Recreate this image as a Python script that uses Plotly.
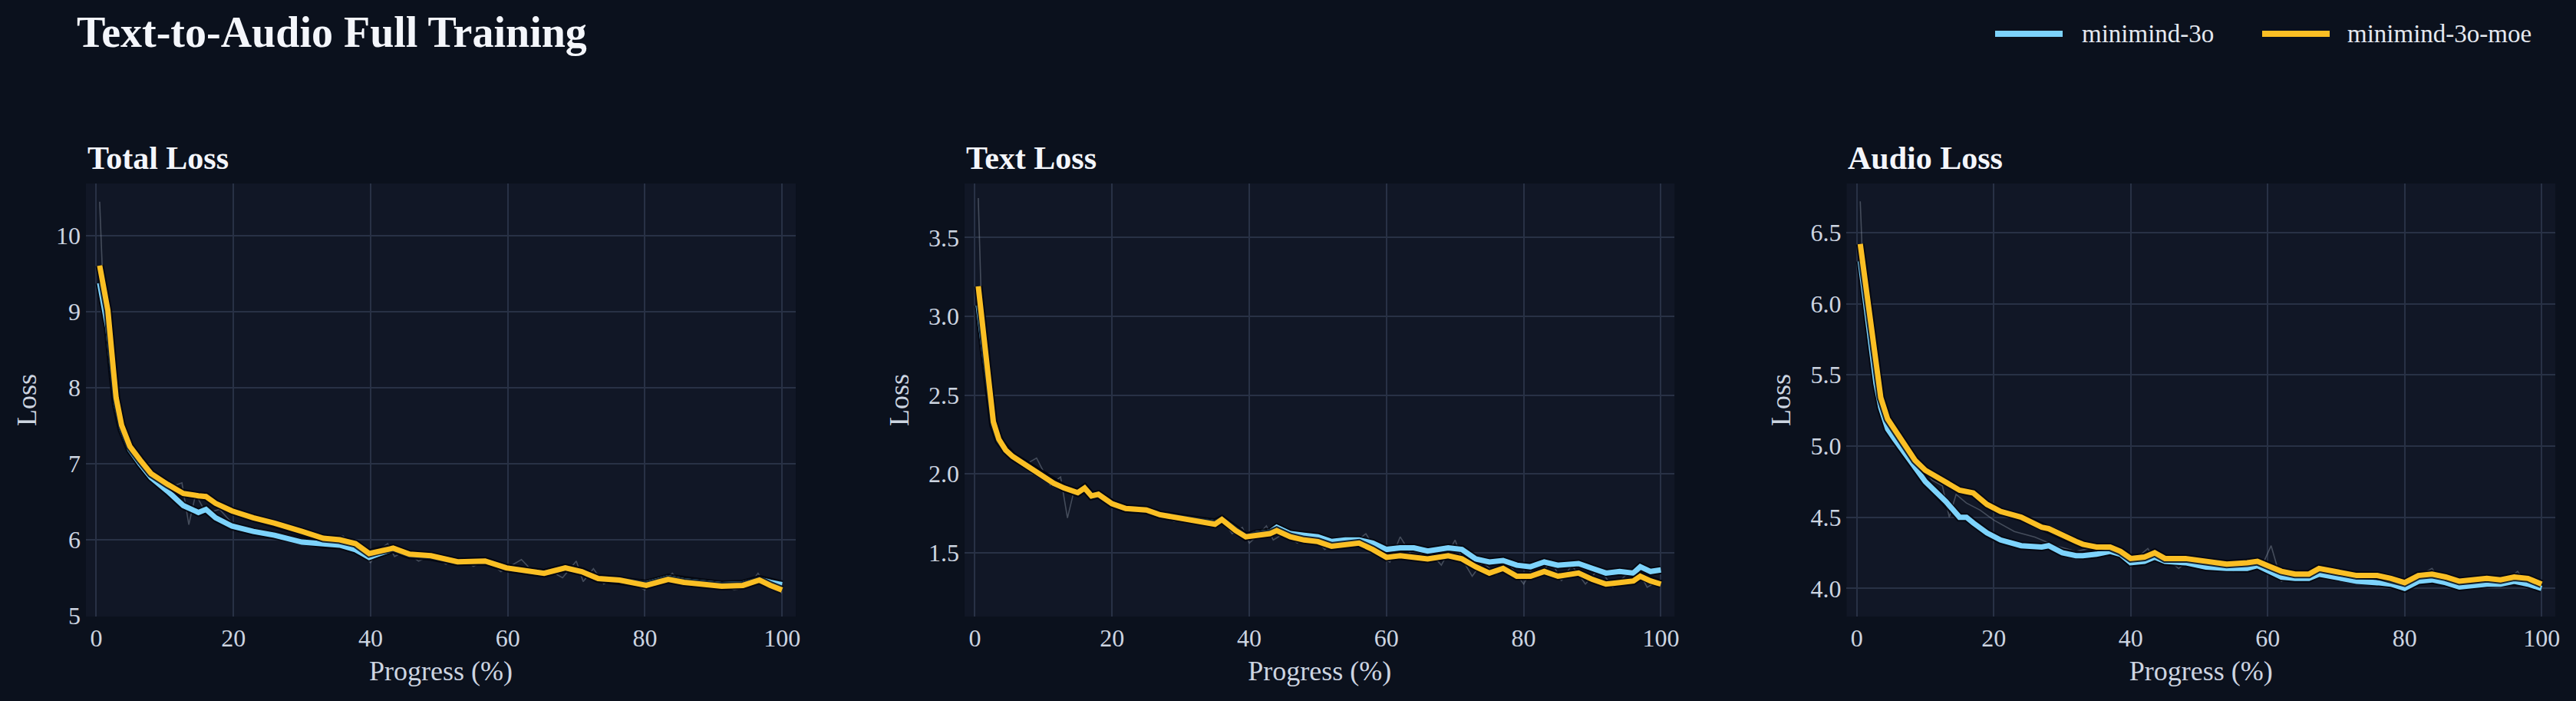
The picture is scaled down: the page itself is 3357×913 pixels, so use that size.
import plotly.graph_objects as go

# ---------------- data ----------------
SERIES_NAMES = ["minimind-3o", "minimind-3o-moe"]
PANEL_TITLES = ["Total Loss", "Text Loss", "Audio Loss"]
X_TICKS = [0, 20, 40, 60, 80, 100]

PROGRESS_TOTAL = [0.5, 1.7, 2.5, 2.9, 3.7, 4.9, 6.4, 8, 10.4, 12.7, 14.9, 16, 17.4, 19.8, 22.9, 26, 30,
                  33.1, 35.5, 37.8, 39.8, 41, 43.3, 45.7, 48.8, 52.7, 56.7, 59.8, 62.9, 65.3, 68.4, 70.8,
                  73.2, 76.3, 80.2, 83.4, 85.7, 88.1, 91.2, 94.3, 96.7, 98.3, 100]
TOTAL_3O = [9.38, 8.79, 8.10, 7.78, 7.46, 7.19, 7.00, 6.82, 6.64, 6.45, 6.36, 6.40, 6.29, 6.18, 6.11, 6.06,
            5.97, 5.94, 5.93, 5.87, 5.77, 5.81, 5.88, 5.80, 5.78, 5.71, 5.72, 5.63, 5.60, 5.56, 5.63, 5.58,
            5.49, 5.47, 5.42, 5.50, 5.46, 5.44, 5.41, 5.42, 5.48, 5.44, 5.41]
TOTAL_MOE = [9.61, 9.02, 8.24, 7.87, 7.51, 7.23, 7.05, 6.87, 6.73, 6.61, 6.58, 6.57, 6.48, 6.38, 6.29, 6.22,
             6.11, 6.02, 6.00, 5.95, 5.82, 5.85, 5.89, 5.81, 5.79, 5.71, 5.72, 5.63, 5.60, 5.56, 5.63, 5.58,
             5.49, 5.47, 5.40, 5.48, 5.44, 5.42, 5.39, 5.40, 5.47, 5.40, 5.34]

PROGRESS_TEXT = [0.5, 1.3, 2, 2.7, 3.5, 4.5, 5.5, 7, 8.5, 10, 11.5, 13, 15, 16, 17, 18, 20, 22, 25, 27, 30, 33,
                 35, 36, 38, 39.5, 41, 43, 44, 46, 48, 50, 52, 54, 56, 58, 60, 62, 64, 66, 69, 71, 73, 75, 77,
                 79, 81, 83, 85, 88, 90, 92, 94, 96, 97, 98.5, 100]
TEXT_3O = [3.07, 2.80, 2.56, 2.31, 2.21, 2.15, 2.11, 2.07, 2.03, 1.98, 1.94, 1.91, 1.88, 1.91, 1.86, 1.87, 1.81,
           1.78, 1.77, 1.74, 1.72, 1.70, 1.69, 1.71, 1.65, 1.60, 1.62, 1.63, 1.66, 1.62, 1.61, 1.60, 1.57, 1.58,
           1.58, 1.56, 1.52, 1.53, 1.53, 1.51, 1.53, 1.52, 1.46, 1.44, 1.45, 1.42, 1.41, 1.44, 1.42, 1.43, 1.40,
           1.37, 1.38, 1.37, 1.41, 1.38, 1.39]
TEXT_MOE = [3.19, 2.88, 2.62, 2.33, 2.22, 2.15, 2.11, 2.07, 2.03, 1.98, 1.94, 1.91, 1.88, 1.91, 1.86, 1.87, 1.81,
            1.78, 1.77, 1.74, 1.72, 1.70, 1.68, 1.71, 1.64, 1.60, 1.61, 1.62, 1.64, 1.60, 1.58, 1.57, 1.54, 1.55,
            1.56, 1.52, 1.47, 1.48, 1.47, 1.46, 1.48, 1.46, 1.41, 1.37, 1.40, 1.35, 1.35, 1.38, 1.35, 1.37, 1.33,
            1.30, 1.31, 1.32, 1.35, 1.32, 1.30]

PROGRESS_AUDIO = [0.5, 1.3, 2, 2.8, 3.5, 4.5, 5.5, 7, 8.5, 10, 11.5, 13, 15, 16, 17, 19, 21, 24, 27, 28, 30, 32,
                  33, 35, 37, 38.5, 40, 42, 43.5, 45, 48, 51, 54, 57, 58.5, 60, 62, 64, 66, 67.5, 70, 73, 76, 78,
                  80, 82, 84, 86, 88, 90, 92, 94, 96, 98, 100]
AUDIO_3O = [6.30, 5.98, 5.69, 5.44, 5.27, 5.12, 5.05, 4.95, 4.84, 4.75, 4.68, 4.61, 4.50, 4.50, 4.46, 4.39, 4.34,
            4.30, 4.29, 4.30, 4.25, 4.23, 4.23, 4.24, 4.26, 4.24, 4.18, 4.19, 4.22, 4.19, 4.18, 4.15, 4.14, 4.14,
            4.16, 4.13, 4.08, 4.07, 4.07, 4.10, 4.08, 4.05, 4.04, 4.03, 4.00, 4.05, 4.06, 4.04, 4.01, 4.02, 4.03,
            4.03, 4.05, 4.03, 4.00]
AUDIO_MOE = [6.42, 6.13, 5.83, 5.54, 5.34, 5.19, 5.12, 5.00, 4.90, 4.83, 4.79, 4.74, 4.69, 4.68, 4.67, 4.59, 4.54,
             4.50, 4.43, 4.42, 4.37, 4.33, 4.31, 4.29, 4.29, 4.26, 4.21, 4.22, 4.25, 4.21, 4.21, 4.19, 4.17, 4.18,
             4.19, 4.16, 4.12, 4.10, 4.10, 4.14, 4.12, 4.09, 4.09, 4.07, 4.04, 4.09, 4.10, 4.08, 4.05, 4.06, 4.07,
             4.06, 4.08, 4.07, 4.03]

# faint raw (unsmoothed) loss traces behind the smoothed curves
RAW_PROGRESS = [0.5, 1, 1.5, 2.5, 3.5, 5, 7, 9, 11, 12.5, 13.5, 14.5, 16, 18, 20, 23, 26, 29, 32, 34, 36, 37.5,
                39, 40, 41, 42.5, 43.5, 45, 47, 49, 51, 53, 55, 57, 59, 60.5, 62, 64, 66, 68, 70, 71, 72.5, 74,
                76, 78, 80, 81, 82.5, 84, 85.5, 87, 89, 91, 93, 95, 96.5, 98, 100]
TOTAL_RAW = [10.45, 9.3, 8.9, 8.1, 7.5, 7.2, 7.0, 6.85, 6.7, 6.75, 6.2, 6.6, 6.35, 6.4, 6.2, 6.15, 6.1, 6.05,
             5.95, 6.0, 6.05, 5.92, 5.78, 5.7, 5.85, 5.95, 5.78, 5.85, 5.72, 5.8, 5.68, 5.76, 5.65, 5.74, 5.58,
             5.66, 5.74, 5.55, 5.6, 5.5, 5.72, 5.45, 5.62, 5.42, 5.5, 5.44, 5.34, 5.46, 5.44, 5.56, 5.4, 5.48,
             5.38, 5.44, 5.34, 5.38, 5.56, 5.36, 5.3]
TEXT_RAW = [3.75, 3.0, 2.75, 2.35, 2.2, 2.12, 2.05, 2.1, 1.93, 1.98, 1.72, 1.9, 1.88, 1.85, 1.82, 1.76, 1.78,
            1.7, 1.72, 1.69, 1.72, 1.62, 1.66, 1.56, 1.6, 1.67, 1.58, 1.62, 1.56, 1.62, 1.52, 1.58, 1.55, 1.62,
            1.48, 1.44, 1.6, 1.46, 1.52, 1.42, 1.58, 1.46, 1.35, 1.44, 1.36, 1.42, 1.3, 1.38, 1.36, 1.45, 1.32,
            1.42, 1.3, 1.4, 1.28, 1.36, 1.4, 1.28, 1.33]
AUDIO_RAW = [6.72, 6.1, 5.85, 5.5, 5.3, 5.1, 4.98, 4.88, 4.76, 4.72, 4.5, 4.66, 4.6, 4.55, 4.48, 4.4, 4.36, 4.3,
             4.26, 4.28, 4.3, 4.24, 4.22, 4.15, 4.22, 4.28, 4.2, 4.22, 4.14, 4.22, 4.14, 4.2, 4.12, 4.18, 4.14,
             4.3, 4.05, 4.1, 4.07, 4.14, 4.08, 4.12, 4.04, 4.1, 4.02, 4.08, 3.98, 4.06, 4.1, 4.14, 4.04, 4.08,
             4.0, 4.08, 4.02, 4.06, 4.12, 4.02, 4.0]

# ---------------- styling ----------------
FONT = "Liberation Serif, Times New Roman, serif"
PAPER_BG = "#0b111d"
PLOT_BG = "#111726"
GRID = "#283145"
TICK_COL = "#cdd5e1"
TITLE_COL = "#f4f6fb"
COLORS = ["#7dd3fc", "#fbbf24"]
SHADOW = "rgba(3,6,14,0.85)"

panels = [
    (PROGRESS_TOTAL, [TOTAL_3O, TOTAL_MOE], TOTAL_RAW, [4.99, 10.69], 1, None),
    (PROGRESS_TEXT, [TEXT_3O, TEXT_MOE], TEXT_RAW, [1.094, 3.843], 0.5, ".1f"),
    (PROGRESS_AUDIO, [AUDIO_3O, AUDIO_MOE], AUDIO_RAW, [3.802, 6.845], 0.5, ".1f"),
]
DOMAINS = [[0.0, 0.28745], [0.35581, 0.64335], [0.71299, 1.0]]

fig = go.Figure()
for i, (xs, ys, raw, yr, dt, fmt) in enumerate(panels):
    xa = "x" if i == 0 else f"x{i+1}"
    ya = "y" if i == 0 else f"y{i+1}"
    fig.add_trace(go.Scatter(x=RAW_PROGRESS, y=raw, mode="lines", xaxis=xa, yaxis=ya,
                             line=dict(color="rgba(140,150,165,0.42)", width=1.6),
                             showlegend=False, hoverinfo="skip"))
    for k in range(2):
        fig.add_trace(go.Scatter(x=xs, y=ys[k], mode="lines", xaxis=xa, yaxis=ya,
                                 line=dict(color=SHADOW, width=11), showlegend=False, hoverinfo="skip"))
        fig.add_trace(go.Scatter(x=xs, y=ys[k], mode="lines", xaxis=xa, yaxis=ya, name=SERIES_NAMES[k],
                                 line=dict(color=COLORS[k], width=7), showlegend=False))
    axsuffix = "" if i == 0 else str(i + 1)
    fig.update_layout(**{
        f"xaxis{axsuffix}": dict(domain=DOMAINS[i], anchor=ya, range=[-1.5, 102], tickvals=X_TICKS,
                                 showgrid=True, gridcolor=GRID, gridwidth=2, zeroline=False, showline=False,
                                 ticks="", ticklabelstandoff=6,
                                 tickfont=dict(family=FONT, size=32, color=TICK_COL),
                                 title=dict(text="Progress (%)", standoff=12,
                                            font=dict(family=FONT, size=36, color=TICK_COL))),
        f"yaxis{axsuffix}": dict(domain=[0, 1], anchor=xa, range=yr, dtick=dt, tickformat=fmt,
                                 showgrid=True, gridcolor=GRID, gridwidth=2, zeroline=False, showline=False,
                                 ticks="", ticklabelstandoff=6,
                                 tickfont=dict(family=FONT, size=32, color=TICK_COL),
                                 title=dict(text="Loss", standoff=14,
                                            font=dict(family=FONT, size=36, color=TICK_COL))),
    })
    fig.add_annotation(text=f"<b>{PANEL_TITLES[i]}</b>", xref=f"{xa} domain", yref="paper",
                       x=0, y=1.0585, xanchor="left", yanchor="middle", showarrow=False,
                       font=dict(family=FONT, size=42, color=TITLE_COL))

fig.add_annotation(text="<b>Text-to-Audio Full Training</b>", xref="paper", yref="paper",
                   x=-0.0045, y=1.3493, xanchor="left", yanchor="middle", showarrow=False,
                   font=dict(family=FONT, size=56, color=TITLE_COL))

# legend (top right): line sample + label per series
LEGEND_LINE_X = [(0.77315, 0.80050), (0.88129, 0.90864)]
LEGEND_TEXT_X = [0.8075, 0.9153]
LEGEND_Y = 1.3457
for k in range(2):
    fig.add_shape(type="line", xref="paper", yref="paper",
                  x0=LEGEND_LINE_X[k][0], x1=LEGEND_LINE_X[k][1], y0=LEGEND_Y, y1=LEGEND_Y,
                  line=dict(color=COLORS[k], width=8))
    fig.add_annotation(text=SERIES_NAMES[k], xref="paper", yref="paper", x=LEGEND_TEXT_X[k], y=LEGEND_Y,
                       xanchor="left", yanchor="middle", showarrow=False,
                       font=dict(family=FONT, size=33, color="#e5e9f0"))

fig.update_layout(
    width=3357, height=913,
    margin=dict(l=112, r=27, t=239, b=110),
    paper_bgcolor=PAPER_BG, plot_bgcolor=PLOT_BG,
    font=dict(family=FONT, color=TICK_COL),
    showlegend=False,
)

fig.write_html("out.html")
